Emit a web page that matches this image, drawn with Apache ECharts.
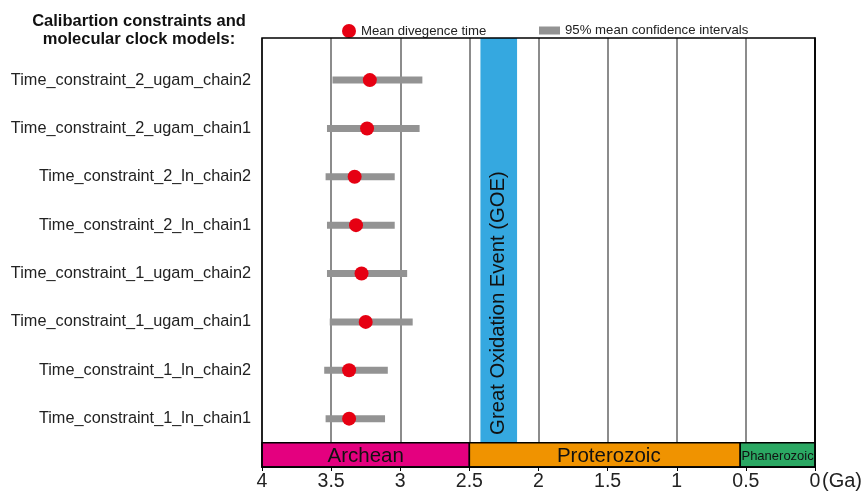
<!DOCTYPE html>
<html>
<head>
<meta charset="UTF-8">
<title>Divergence times</title>
<script src="https://cdn.jsdelivr.net/npm/echarts@6/dist/echarts.min.js"></script>
<style>
  html, body { margin: 0; padding: 0; background: #fff; }
  #chart { width: 865px; height: 491px; }
</style>
</head>
<body>
<div id="chart"></div>
<script>
// rows listed top to bottom
var models = [
  'Time_constraint_2_ugam_chain2',
  'Time_constraint_2_ugam_chain1',
  'Time_constraint_2_ln_chain2',
  'Time_constraint_2_ln_chain1',
  'Time_constraint_1_ugam_chain2',
  'Time_constraint_1_ugam_chain1',
  'Time_constraint_1_ln_chain2',
  'Time_constraint_1_ln_chain1'
];
var meanTime = [3.22, 3.24, 3.33, 3.32, 3.28, 3.25, 3.37, 3.37];
var ciLow = [2.84, 2.86, 3.04, 3.04, 2.95, 2.91, 3.09, 3.11];
var ciHigh = [3.49, 3.53, 3.54, 3.53, 3.53, 3.51, 3.55, 3.54];

var eonNames = ['Archean', 'Proterozoic', 'Phanerozoic'];
var eonStart = [4, 2.5, 0.541];
var eonEnd = [2.5, 0.541, 0];
var eonColors = ['#e4007f', '#f09300', '#2ba863'];

var goeRange = [2.42, 2.155];

var yTop = 7.87;
var n = models.length;
// y position of a row: top row highest
function rowY(i) { return n - 1 - i; }

var chart = echarts.init(document.getElementById('chart'));

var meanData = meanTime.map(function (v, i) { return [v, rowY(i)]; });
var ciData = ciLow.map(function (v, i) { return [v, ciHigh[i], rowY(i)]; });
var eonData = eonNames.map(function (name, i) { return [eonStart[i], eonEnd[i], i, name]; });

var font = 'Liberation Sans';
var eonTextShift = [0, 4, 0];

var option = {
  backgroundColor: '#fff',
  animation: false,
  title: {
    text: 'Calibartion constraints and\nmolecular clock models:',
    left: 134,
    top: 7,
    textAlign: 'center',
    textStyle: { fontFamily: font, fontSize: 16.5, fontWeight: 'bold', color: '#111', lineHeight: 18 }
  },
  legend: [
    {
      left: 337, top: 19,
      itemWidth: 14, itemHeight: 14, itemGap: 10,
      data: [{ name: 'Mean divegence time', icon: 'circle' }],
      textStyle: { fontFamily: font, fontSize: 13.2, color: '#222' }
    },
    {
      left: 534, top: 19,
      itemWidth: 21, itemHeight: 8,
      data: [{ name: '95% mean confidence intervals', icon: 'rect' }],
      textStyle: { fontFamily: font, fontSize: 13.2, color: '#222' }
    }
  ],
  grid: { left: 262, right: 50, top: 38, bottom: 24, outerBoundsMode: 'none', containLabel: false },
  xAxis: {
    type: 'value',
    inverse: true,
    min: 0, max: 4, interval: 0.5,
    axisLine: { show: true, onZero: false, lineStyle: { color: '#000', width: 1.5 } },
    axisTick: { show: true, length: 4, lineStyle: { color: '#000' } },
    axisLabel: {
      fontFamily: font, fontSize: 19.5, color: '#222', margin: 5,
      formatter: function (v) { return String(v); }
    },
    splitLine: { show: true, lineStyle: { color: '#666', width: 1.5 } }
  },
  yAxis: {
    type: 'value',
    min: -1, max: yTop, interval: 1,
    axisLine: { show: true, lineStyle: { color: '#000', width: 1.5 } },
    axisTick: { show: false },
    splitLine: { show: false },
    axisLabel: {
      fontFamily: font, fontSize: 16.3, color: '#222', margin: 11,
      showMaxLabel: false,
      formatter: function (v) {
        var i = n - 1 - Math.round(v);
        return (v >= 0 && i >= 0 && i < n) ? models[i] : '';
      }
    }
  },
  series: [
    {
      // GOE band
      type: 'custom',
      silent: true,
      z: 1,
      data: [goeRange],
      renderItem: function (params, api) {
        var a = api.coord([api.value(0), yTop]);
        var b = api.coord([api.value(1), -0.5]);
        return {
          type: 'group',
          children: [
            { type: 'rect', shape: { x: a[0], y: a[1], width: b[0] - a[0], height: b[1] - a[1] },
              style: { fill: '#35a8e0' } },
            { type: 'text', x: (a[0] + b[0]) / 2, y: 303, rotation: Math.PI / 2,
              style: { text: 'Great Oxidation Event (GOE)', fill: '#111', fontSize: 20.3,
                fontFamily: font, align: 'center', verticalAlign: 'middle' } }
          ]
        };
      }
    },
    {
      name: '95% mean confidence intervals',
      type: 'custom',
      z: 3,
      itemStyle: { color: '#939393' },
      data: ciData,
      renderItem: function (params, api) {
        var a = api.coord([api.value(1), api.value(2)]);
        var b = api.coord([api.value(0), api.value(2)]);
        return { type: 'rect', shape: { x: a[0], y: a[1] - 3.5, width: b[0] - a[0], height: 7 },
          style: { fill: '#939393' } };
      }
    },
    {
      name: 'Mean divegence time',
      type: 'scatter',
      z: 4,
      symbol: 'circle',
      symbolSize: 14,
      itemStyle: { color: '#e60012', opacity: 1 },
      data: meanData
    },
    {
      // geological eons
      type: 'custom',
      silent: true,
      z: 5,
      data: eonData,
      renderItem: function (params, api) {
        var a = api.coord([api.value(0), -0.5]);
        var b = api.coord([api.value(1), -1]);
        var i = api.value(2);
        return {
          type: 'group',
          children: [
            { type: 'rect', shape: { x: a[0], y: a[1], width: b[0] - a[0], height: b[1] - a[1] },
              style: { fill: eonColors[i], stroke: '#000', lineWidth: 1.5 } },
            { type: 'text', x: (a[0] + b[0]) / 2 + eonTextShift[i], y: (a[1] + b[1]) / 2 + 1.5,
              style: { text: eonNames[i], fill: '#111', fontSize: i === 2 ? 13 : 20.5,
                fontFamily: font, align: 'center', verticalAlign: 'middle' } }
          ]
        };
      }
    },
    {
      // plot frame
      type: 'custom',
      silent: true,
      z: 6,
      data: [[4, 0]],
      renderItem: function (params, api) {
        var a = api.coord([api.value(0), yTop]);
        var b = api.coord([api.value(1), -1]);
        return { type: 'rect', shape: { x: a[0], y: a[1], width: b[0] - a[0], height: b[1] - a[1] },
          style: { fill: 'none', stroke: '#000', lineWidth: 1.5 } };
      }
    }
  ],
  graphic: [
    { type: 'text', left: 822, top: 471,
      style: { text: '(Ga)', fontSize: 20, fontFamily: font, fill: '#222' } }
  ]
};

chart.setOption(option);
</script>
</body>
</html>
